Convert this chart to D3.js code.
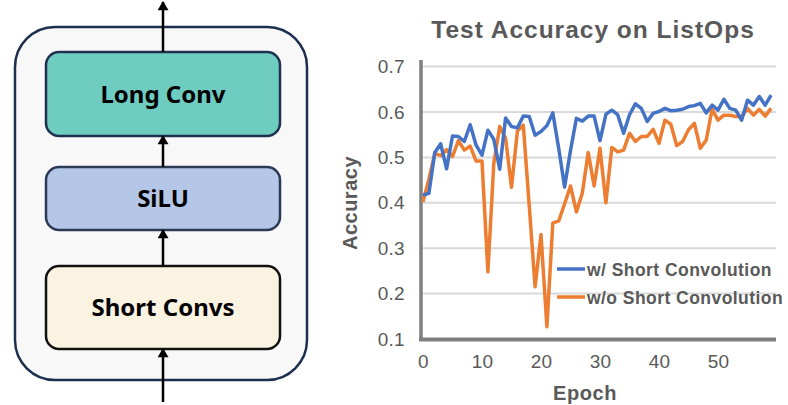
<!DOCTYPE html>
<html>
<head>
<meta charset="utf-8">
<script src="https://cdn.jsdelivr.net/npm/d3@7"></script>
<style>
  body { margin: 0; background: #ffffff; }
  svg { display: block; }
</style>
</head>
<body>
<script>
/**
Left: the block diagram. Right: the test accuracy curves on ListOps.
*/

const width = 788;
const height = 405;

// The data
const epochs = d3.range(0, 60);
const withShort = [0.417, 0.421, 0.511, 0.530, 0.475, 0.547, 0.546, 0.535, 0.572, 0.527,
  0.505, 0.560, 0.540, 0.474, 0.587, 0.568, 0.565, 0.591, 0.590, 0.549,
  0.557, 0.570, 0.598, 0.520, 0.435, 0.515, 0.586, 0.580, 0.591, 0.591,
  0.537, 0.595, 0.604, 0.594, 0.553, 0.594, 0.618, 0.608, 0.579, 0.597,
  0.601, 0.608, 0.603, 0.604, 0.606, 0.612, 0.614, 0.619, 0.598, 0.615,
  0.604, 0.628, 0.608, 0.604, 0.582, 0.626, 0.615, 0.634, 0.615, 0.637];
const withoutShort = [0.402, 0.452, 0.509, 0.504, 0.517, 0.502, 0.537, 0.516, 0.525, 0.492,
  0.492, 0.248, 0.487, 0.568, 0.542, 0.434, 0.558, 0.571, 0.395, 0.215,
  0.330, 0.127, 0.355, 0.360, 0.398, 0.437, 0.380, 0.421, 0.511, 0.437,
  0.520, 0.400, 0.522, 0.512, 0.516, 0.553, 0.535, 0.546, 0.546, 0.562,
  0.531, 0.582, 0.573, 0.526, 0.535, 0.561, 0.575, 0.520, 0.538, 0.606,
  0.582, 0.593, 0.593, 0.590, 0.590, 0.608, 0.593, 0.606, 0.591, 0.608];
const seriesNames = ['w/ Short Convolution', 'w/o Short Convolution'];
const seriesColors = ['#4472c4', '#ed7d31'];
const yTicks = [0.1, 0.2, 0.3, 0.4, 0.5, 0.6, 0.7];
const xTicks = [0, 10, 20, 30, 40, 50];

// The diagram blocks, bottom to top
const blocks = ['Short Convs', 'SiLU', 'Long Conv'];

const grey = '#595959';
const chartFont = '"Liberation Sans", Arial, sans-serif';

var body = d3.select('body');

var svg = body
  .append('svg')
  .attr('width', width)
  .attr('height', height);

var defs = svg.append('defs');
defs.append('marker')
  .attr('id', 'head')
  .attr('viewBox', '0 0 10 12')
  .attr('refX', 9)
  .attr('refY', 6)
  .attr('markerWidth', 4)
  .attr('markerHeight', 4.4)
  .attr('markerUnits', 'strokeWidth')
  .attr('orient', 'auto')
  .append('path')
  .attr('d', 'M0,0 L10,6 L0,12 z')
  .attr('fill', '#000');

/* ---------- block diagram ---------- */
var diag = svg.append('g');

diag.append('rect')
  .attr('x', 15).attr('y', 27)
  .attr('width', 292).attr('height', 353)
  .attr('rx', 40)
  .attr('fill', '#f8f8f8')
  .attr('stroke', '#1d2f50')
  .attr('stroke-width', 2.5);

// y, height, fill, stroke of each block
var blockBox = [
  {y: 266, h: 83, fill: '#fbf3e2', stroke: '#111111'},
  {y: 167, h: 63, fill: '#b4c7e7', stroke: '#2c3a56'},
  {y: 52, h: 84, fill: '#6ecdc0', stroke: '#1f3050'}
];

blocks.forEach(function (name, i) {
  var b = blockBox[i];
  diag.append('rect')
    .attr('x', 46).attr('y', b.y)
    .attr('width', 234).attr('height', b.h)
    .attr('rx', 13)
    .attr('fill', b.fill)
    .attr('stroke', b.stroke)
    .attr('stroke-width', 2.5);
  diag.append('text')
    .attr('x', 163)
    .attr('y', b.y + b.h / 2)
    .attr('dy', '0.36em')
    .style('font-family', '"Noto Sans", "Open Sans", sans-serif')
    .style('font-weight', 'bold')
    .style('font-size', '24px')
    .style('text-anchor', 'middle')
    .style('fill', '#000')
    .text(name);
});

// arrows between the blocks
var arrows = [[402, 349], [266, 230], [167, 136], [52, 2]];
arrows.forEach(function (a) {
  diag.append('line')
    .attr('x1', 163).attr('y1', a[0])
    .attr('x2', 163).attr('y2', a[1])
    .attr('stroke', '#000')
    .attr('stroke-width', 2.5)
    .attr('marker-end', 'url(#head)');
});

/* ---------- accuracy chart ---------- */
var x = d3.scaleLinear().domain([0, 60]).range([423, 777]);
var y = d3.scaleLinear().domain([0.1, 0.7]).range([339, 66.6]);

var chart = svg.append('g');

// gridlines
chart.selectAll('.grid')
  .data(yTicks.slice(1))
  .enter().append('line')
  .attr('class', 'grid')
  .attr('x1', 421).attr('x2', 776)
  .attr('y1', d => y(d)).attr('y2', d => y(d))
  .attr('stroke', '#d9d9d9')
  .attr('stroke-width', 2);

// y axis labels
var yAxis = chart.append('g')
  .attr('transform', 'translate(421,0)')
  .call(d3.axisLeft(y).tickValues(yTicks).tickSize(0).tickPadding(16).tickFormat(d3.format('.1f')));
yAxis.select('.domain').remove();
yAxis.selectAll('text')
  .style('font-family', chartFont)
  .style('font-size', '19px')
  .style('letter-spacing', '0.3px')
  .style('fill', grey);

// x axis labels
var xAxis = chart.append('g')
  .attr('transform', 'translate(0,339)')
  .call(d3.axisBottom(x).tickValues(xTicks).tickSize(0).tickPadding(16));
xAxis.select('.domain').remove();
xAxis.selectAll('text')
  .style('font-family', chartFont)
  .style('font-size', '19px')
  .style('letter-spacing', '0.3px')
  .style('fill', grey);

// axis lines
chart.append('line')
  .attr('x1', 421).attr('x2', 421)
  .attr('y1', 60).attr('y2', 341)
  .attr('stroke', '#7f7f7f').attr('stroke-width', 3.5);
chart.append('line')
  .attr('x1', 419).attr('x2', 776)
  .attr('y1', 339.5).attr('y2', 339.5)
  .attr('stroke', '#7f7f7f').attr('stroke-width', 4);

// the curves
var line = d3.line()
  .x((d, i) => x(epochs[i]))
  .y(d => y(d));

[withoutShort, withShort].forEach(function (s, k) {
  chart.append('path')
    .datum(s)
    .attr('d', line)
    .attr('fill', 'none')
    .attr('stroke', seriesColors[1 - k])
    .attr('stroke-width', 3.5)
    .attr('stroke-linejoin', 'round');
});

// title
chart.append('text')
  .attr('x', 593).attr('y', 38)
  .style('font-family', chartFont)
  .style('font-weight', 'bold')
  .style('font-size', '24.5px')
  .style('letter-spacing', '1px')
  .style('text-anchor', 'middle')
  .style('fill', grey)
  .text('Test Accuracy on ListOps');

// axis titles
chart.append('text')
  .attr('x', 585).attr('y', 400)
  .style('font-family', chartFont)
  .style('font-weight', 'bold')
  .style('font-size', '20px')
  .style('letter-spacing', '0.6px')
  .style('text-anchor', 'middle')
  .style('fill', grey)
  .text('Epoch');

chart.append('text')
  .attr('transform', 'translate(357,203) rotate(-90)')
  .style('font-family', chartFont)
  .style('font-weight', 'bold')
  .style('font-size', '20px')
  .style('letter-spacing', '0.5px')
  .style('text-anchor', 'middle')
  .style('fill', grey)
  .text('Accuracy');

// legend
var legend = chart.selectAll('.legend')
  .data(seriesNames)
  .enter().append('g')
  .attr('class', 'legend')
  .attr('transform', (d, i) => 'translate(557,' + (269 + i * 28) + ')');

legend.append('line')
  .attr('x1', 0).attr('x2', 28)
  .attr('stroke', (d, i) => seriesColors[i])
  .attr('stroke-width', 3.5);

legend.append('text')
  .attr('x', 30).attr('y', 7)
  .style('font-family', chartFont)
  .style('font-weight', 'bold')
  .style('font-size', '17.5px')
  .style('letter-spacing', '0.45px')
  .style('fill', grey)
  .text(d => d);
</script>
</body>
</html>
